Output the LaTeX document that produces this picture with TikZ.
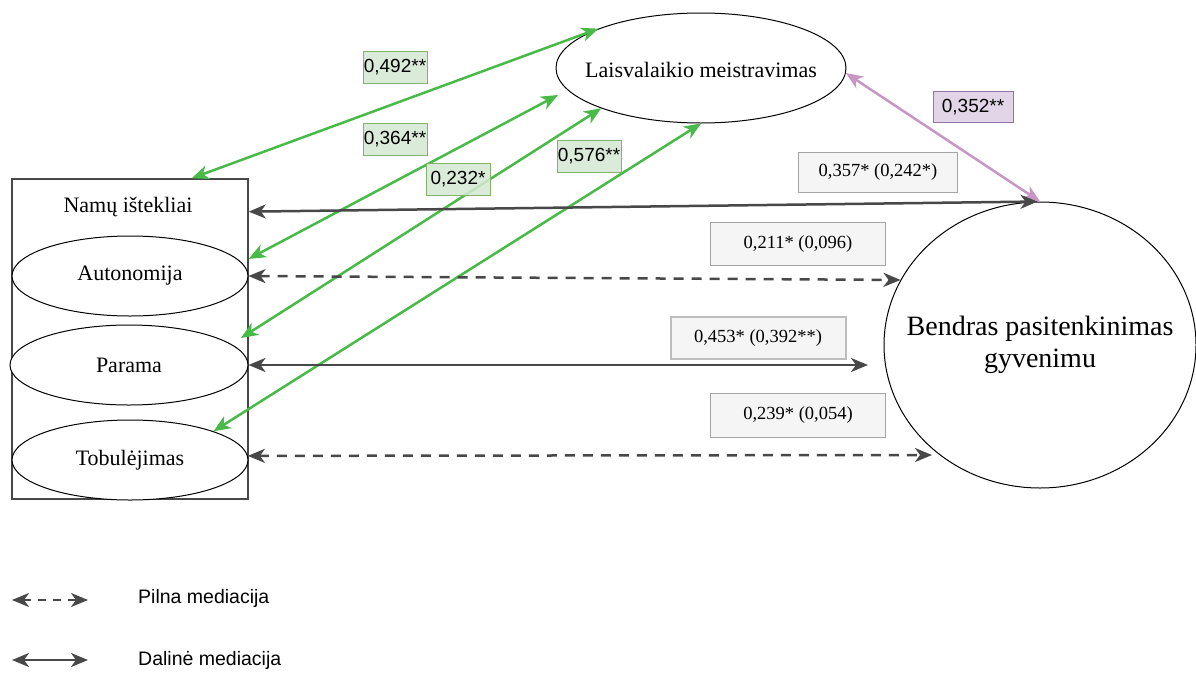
\documentclass[tikz,border=0pt]{standalone}
\usepackage{fontspec}
\setmainfont{Liberation Serif}
\newfontfamily\arialfont{Liberation Sans}
\usetikzlibrary{arrows.meta,shapes.geometric}

\definecolor{grn}{RGB}{72,186,72}
\definecolor{grnfill}{HTML}{D5E8D4}
\definecolor{grnline}{HTML}{82B366}
\definecolor{pur}{RGB}{200,150,196}
\definecolor{purfill}{HTML}{E1D5E7}
\definecolor{purline}{HTML}{9673A6}
\definecolor{dk}{RGB}{72,72,72}
\definecolor{gbox}{HTML}{F5F5F5}
\definecolor{gline}{RGB}{165,165,165}
\definecolor{gline2}{RGB}{190,190,190}

\begin{document}
\begin{tikzpicture}[x=1pt,y=-1pt,
  twoway/.style={{Stealth[length=17pt,width=14pt,inset=5pt]}-{Stealth[length=17pt,width=14pt,inset=5pt]}},
  oval/.style={ellipse, draw=black, line width=1pt, fill=white, inner sep=0pt},
  ovaltext/.style={font=\fontsize{22}{26}\selectfont, inner sep=0pt},
  corr/.style={twoway, draw=grn, line width=2.5pt},
  link/.style={twoway, draw=dk, line width=2.5pt},
  dashlink/.style={link, dash pattern=on 10pt off 8pt},
  greentag/.style={draw=grnline, fill=grnfill, fill opacity=0.85, text opacity=1,
                   line width=1pt, inner sep=0pt, minimum width=64, minimum height=32,
                   font=\arialfont\fontsize{19}{22}\selectfont},
  graytag/.style={draw=gline, fill=gbox, line width=1pt, inner sep=0pt,
                  minimum width=175, minimum height=43,
                  font=\fontsize{18.5}{22}\selectfont},
  legendtext/.style={anchor=west, inner sep=0pt, font=\arialfont\fontsize{19.5}{23}\selectfont}
]
\fill[white] (0,0) rectangle (1196,672);
\useasboundingbox (0,0) rectangle (1196,672);

% Resource block with its three components
\node[draw=dk, line width=1.5pt, fill=white, minimum width=236, minimum height=320, inner sep=0pt] (res) at (130,339) {};
\node[ovaltext] (restitle) at (128,207) {Namų ištekliai};
\node[oval, minimum width=236, minimum height=80, label={[ovaltext]center:Autonomija}] (aut) at (130,276) {};
\node[oval, minimum width=238, minimum height=80, label={[ovaltext]center:Parama}] (par) at (129,365) {};
\node[oval, minimum width=236, minimum height=80, label={[ovaltext]center:Tobulėjimas}] (tob) at (130,460) {};

% Mediator and outcome
\node[oval, minimum width=290, minimum height=110,
      label={[ovaltext, yshift=-2pt]center:Laisvalaikio meistravimas}] (lm) at (701,68) {};
\node[oval, minimum width=312, minimum height=286,
      label={[ovaltext, align=center, font=\fontsize{28}{32}\selectfont]center:Bendras pasitenkinimas\\gyvenimu}] (big) at (1040,345) {};

% Free ends of connectors
\coordinate (g2top) at (558,95);
\coordinate (g3low) at (241,338);
\coordinate (parend) at (868,365);
\coordinate (tobend) at (932,455);
\coordinate (l1a) at (12,600);
\coordinate (l1b) at (88,600);
\coordinate (l2a) at (12,660);
\coordinate (l2b) at (88,660);

% Correlations with the mediator
\draw[corr] (lm.159) -- (res.69.4);
\draw[corr] (g2top) -- (res.34.8);
\draw[corr] (lm.202) -- (g3low);
\draw[corr] (lm.-90) -- (tob.19);
\draw[twoway, draw=pur, line width=2.5pt] (lm.-2) -- (big.north);

% Paths to overall life satisfaction
\draw[link] (big.91) -- (res.47.3);
\draw[dashlink] (aut.east) -- (big.155);
\draw[link] (par.east) -- (parend);
\draw[dashlink] (tob.2) -- (tobend);

% Coefficients
\node[greentag] (c492) at (395,67) {0,492**};
\node[greentag] (c364) at (395,139) {0,364**};
\node[greentag] (c232) at (458,179) {0,232*};
\node[greentag] (c576) at (589,156) {0,576**};
\node[draw=purline, fill=purfill, line width=1pt, inner sep=0pt, minimum width=80, minimum height=31,
      font=\arialfont\fontsize{19}{22}\selectfont] (c352) at (973,107) {0,352**};

\node[graytag, minimum width=159, minimum height=40] (c357) at (878,172) {0,357* (0,242*)};
\node[graytag] (c211) at (798,244) {0,211* (0,096)};
\node[graytag, draw=gline2, line width=2pt, minimum height=42] (c453) at (758,338) {0,453* (0,392**)};
\node[graytag, minimum height=44] (c239) at (798,415) {0,239* (0,054)};

% Legend
\draw[dashlink, line width=2pt, dash pattern=on 8pt off 7pt] (l1a) -- (l1b);
\node[legendtext] (lg1) at (138,598) {Pilna mediacija};
\draw[link, line width=2pt] (l2a) -- (l2b);
\node[legendtext] (lg2) at (138,660) {Dalinė mediacija};
\end{tikzpicture}
\end{document}
